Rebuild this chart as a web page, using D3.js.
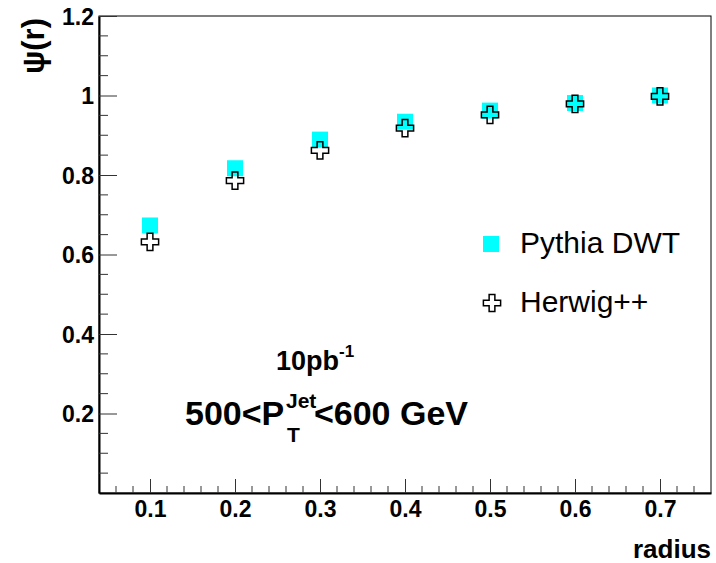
<!DOCTYPE html>
<html>
<head>
<meta charset="utf-8">
<script src="https://cdn.jsdelivr.net/npm/d3@7"></script>
<style>
  body { margin: 0; background: #fff; }
  svg { display: block; font-family: "Liberation Sans", Arial, sans-serif; }
</style>
</head>
<body>
<svg id="chart" width="716" height="563"></svg>
<script>
// values
const radius = [0.1, 0.2, 0.3, 0.4, 0.5, 0.6, 0.7];
const pythiaDWT = [0.673, 0.817, 0.889, 0.934, 0.962, 0.981, 1.0];
const herwigPP = [0.632, 0.786, 0.862, 0.918, 0.951, 0.979, 0.998];
const xTicks = [0.1, 0.2, 0.3, 0.4, 0.5, 0.6, 0.7];
const yTicks = [0.2, 0.4, 0.6, 0.8, 1.0, 1.2];

const svg = d3.select('#chart');
const m = { left: 99, right: 711, top: 16, bottom: 493 };

const x = d3.scaleLinear().domain([0.04, 0.76]).range([m.left, m.right]);
const y = d3.scaleLinear().domain([0, 1.2]).range([m.bottom, m.top]);

// frame
svg.append('rect')
  .attr('x', m.left).attr('y', m.top)
  .attr('width', m.right - m.left).attr('height', m.bottom - m.top)
  .attr('fill', 'none').attr('stroke', '#000').attr('stroke-width', 1);

// minor ticks
const xMinor = d3.range(0.06, 0.75, 0.02).filter(v => Math.abs(v * 10 - Math.round(v * 10)) > 1e-6);
const yMinor = d3.range(0.05, 1.2, 0.05).filter(v => Math.abs(v * 5 - Math.round(v * 5)) > 1e-6);

// x axis, ticks pointing inward
const xAxis = d3.axisBottom(x).tickValues(xTicks).tickSize(-14).tickSizeOuter(0)
  .tickFormat(d3.format('.1f'));
const gx = svg.append('g').attr('transform', `translate(0,${m.bottom})`).call(xAxis);
gx.append('g').selectAll('line').data(xMinor).join('line')
  .attr('x1', d => x(d)).attr('x2', d => x(d)).attr('y1', 0).attr('y2', -7)
  .attr('stroke', '#333');

const yAxis = d3.axisLeft(y).tickValues(yTicks).tickSize(-18).tickSizeOuter(0).tickPadding(5)
  .tickFormat(d => d === 1 ? '1' : d3.format('.1f')(d));
const gy = svg.append('g').attr('transform', `translate(${m.left},0)`).call(yAxis);
gy.append('g').selectAll('line').data(yMinor).join('line')
  .attr('x1', 0).attr('x2', 9).attr('y1', d => y(d)).attr('y2', d => y(d))
  .attr('stroke', '#333');

[gx, gy].forEach(g => {
  g.select('.domain').attr('stroke', '#000').attr('stroke-width', 2);
  g.selectAll('.tick line').attr('stroke', '#333');
  g.selectAll('.tick text').attr('font-size', 23).attr('font-weight', 'bold')
    .attr('font-family', '"Liberation Sans", Arial, sans-serif').attr('fill', '#000');
});
gx.selectAll('.tick text').attr('dy', null).attr('y', 24);
gy.selectAll('.tick text').attr('dy', '0.36em');

// axis titles
svg.append('text')
  .attr('transform', `translate(44,18) rotate(-90)`)
  .attr('text-anchor', 'end').attr('font-size', 31).attr('font-weight', 'bold')
  .text('ψ(r)');
svg.append('text')
  .attr('x', 711).attr('y', 558).attr('text-anchor', 'end')
  .attr('font-size', 26).attr('font-weight', 'bold')
  .text('radius');

// markers
const cross = d3.symbol().type(d3.symbolCross).size(165)();
const sq = 16;

svg.append('g').selectAll('rect').data(radius).join('rect')
  .attr('x', (d, i) => x(d) - sq / 2).attr('y', (d, i) => y(pythiaDWT[i]) - sq / 2)
  .attr('width', sq).attr('height', sq).attr('fill', '#00ffff');

svg.append('g').selectAll('path').data(radius).join('path')
  .attr('d', cross)
  .attr('transform', (d, i) => `translate(${x(d)},${y(herwigPP[i])})`)
  .attr('fill', 'none').attr('stroke', '#000').attr('stroke-width', 1.5);

// legend
const leg = svg.append('g');
leg.append('rect').attr('x', 491 - sq / 2).attr('y', 244 - sq / 2)
  .attr('width', sq).attr('height', sq).attr('fill', '#00ffff');
leg.append('text').attr('x', 520).attr('y', 253).attr('font-size', 30).text('Pythia DWT');
leg.append('path').attr('d', cross).attr('transform', 'translate(492,303)')
  .attr('fill', 'none').attr('stroke', '#000').attr('stroke-width', 1.5);
leg.append('text').attr('x', 520).attr('y', 312).attr('font-size', 30).text('Herwig++');

// annotations
const lumi = svg.append('text').attr('x', 276).attr('y', 370)
  .attr('font-size', 27).attr('font-weight', 'bold');
lumi.append('tspan').text('10pb');
lumi.append('tspan').attr('font-size', 17).attr('dy', -13).text('-1');

const ptStyle = s => s.attr('font-weight', 'bold');
svg.append('text').attr('x', 185).attr('y', 425).attr('font-size', 34)
  .call(ptStyle).text('500<P');
svg.append('text').attr('x', 286).attr('y', 408).attr('font-size', 21)
  .call(ptStyle).text('Jet');
svg.append('text').attr('x', 287).attr('y', 442).attr('font-size', 21)
  .call(ptStyle).text('T');
svg.append('text').attr('x', 468).attr('y', 425).attr('font-size', 34)
  .attr('text-anchor', 'end')
  .call(ptStyle).text('<600 GeV');
</script>
</body>
</html>
